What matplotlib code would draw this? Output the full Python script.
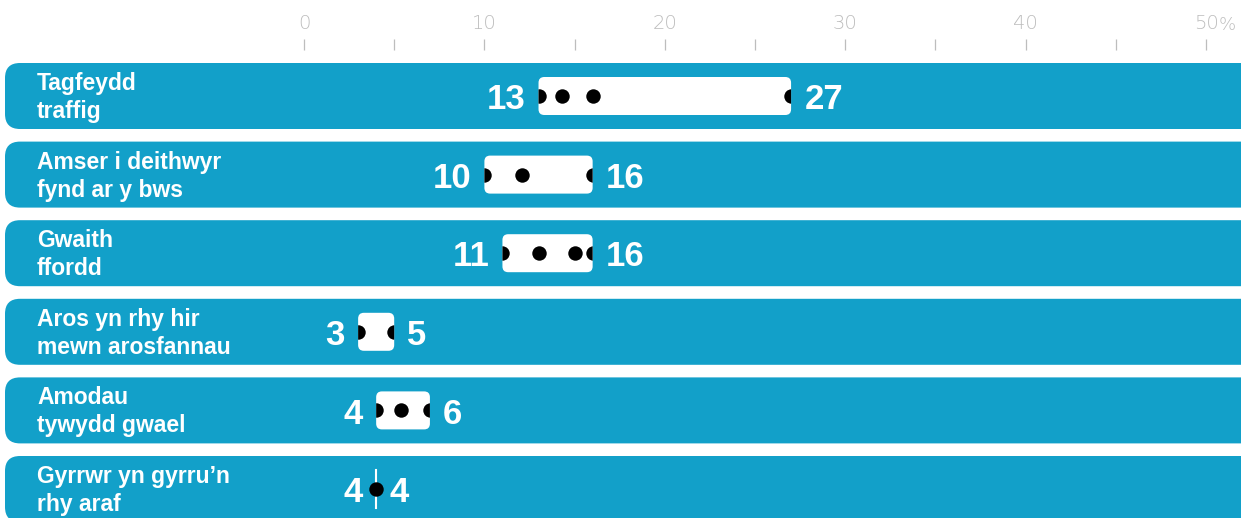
import numpy as np
import matplotlib
matplotlib.use("Agg")
import matplotlib.pyplot as plt
from matplotlib.patches import FancyBboxPatch

# data
row_titles = ["Tagfeydd\ntraffig", "Amser i deithwyr\nfynd ar y bws", "Gwaith\nffordd",
              "Aros yn rhy hir\nmewn arosfannau", "Amodau\ntywydd gwael", "Gyrrwr yn gyrru’n\nrhy araf"]
lows = [13, 10, 11, 3, 4, 4]
highs = [27, 16, 16, 5, 6.98, 4]
low_labels = ["13", "10", "11", "3", "4", "4"]
high_labels = ["27", "16", "16", "5", "6", "4"]
dots = [[13, 14.3, 16, 27], [10, 12.1, 16], [11, 13, 15, 16], [3, 5], [4, 5.4, 7], [4]]
ticks = [0, 5, 10, 15, 20, 25, 30, 35, 40, 45, 50]
tick_labels = ["0", "", "10", "", "20", "", "30", "", "40", "", "50"]

BLUE = "#12a0c9"
GREY = "#bdbdbd"
W, H = 1241, 518
PX_PER_UNIT = 18.04
X0 = 304  # pixel of value 0

fig = plt.figure(figsize=(W / 100, H / 100), dpi=100)

# background layer in pixel coords (bands + row titles)
bg = fig.add_axes([0, 0, 1, 1])
bg.set_xlim(0, W)
bg.set_ylim(H, 0)
bg.axis("off")

row_top = [63 + i * 78.6 for i in range(len(row_titles))]
row_h = 66
for i, title in enumerate(row_titles):
    band = FancyBboxPatch((5, row_top[i]), W + 40, row_h,
                          boxstyle="round,pad=0,rounding_size=15",
                          fc=BLUE, ec="none")
    bg.add_patch(band)
    l1, l2 = title.split("\n")
    c = row_top[i] + row_h / 2
    bg.text(37, c - 6, l1, color="white", fontsize=16.5, fontweight="bold",
            family="Liberation Sans", va="baseline", ha="left")
    bg.text(37, c + 22, l2, color="white", fontsize=16.5, fontweight="bold",
            family="Liberation Sans", va="baseline", ha="left")

# data layer: x in percent, y in pixels
ax = fig.add_axes([0, 0, 1, 1])
ax.patch.set_alpha(0)
ax.set_xlim(-X0 / PX_PER_UNIT, (W - X0) / PX_PER_UNIT)
ax.set_ylim(H, 0)
for s in ["left", "right", "bottom"]:
    ax.spines[s].set_visible(False)
ax.spines["top"].set_position(("data", 50))
ax.spines["top"].set_color("none")
ax.set_yticks([])
ax.set_xticks(ticks)
ax.set_xticklabels(tick_labels)
ax.tick_params(axis="x", top=True, labeltop=True, bottom=False, labelbottom=False,
               direction="out", length=8, width=0.9, color=GREY, labelcolor=GREY,
               labelsize=14, pad=4)
for lab in ax.get_xticklabels():
    lab.set_family("DejaVu Sans")
    lab.set_fontweight("light")
ax.annotate("%", xy=(50, 30.5), xycoords="data", xytext=(9, 0), textcoords="offset points",
            color=GREY, fontsize=13, family="DejaVu Sans", fontweight="light",
            ha="left", va="baseline")

box_h = 38
for i in range(len(row_titles)):
    c = row_top[i] + row_h / 2
    lo, hi = lows[i], highs[i]
    if hi > lo:
        box = FancyBboxPatch((lo, c - box_h / 2), hi - lo, box_h,
                             boxstyle="round,pad=0,rounding_size=0.32",
                             mutation_aspect=PX_PER_UNIT, fc="white", ec="none", zorder=3)
        ax.add_patch(box)
        sc = ax.scatter(dots[i], [c] * len(dots[i]), s=108, color="black", zorder=4,
                        linewidths=0)
        sc.set_clip_path(box)
    else:
        ax.plot([lo, lo], [c - 19, c + 19], color="white", lw=1.5, zorder=3)
        ax.scatter(dots[i], [c] * len(dots[i]), s=108, color="black", zorder=4,
                   linewidths=0)
    ax.annotate(low_labels[i], xy=(lo, c), xytext=(-9.5, -9.5), textcoords="offset points",
                ha="right", va="baseline", color="white", fontsize=25, fontweight="bold",
                family="Liberation Sans")
    ax.annotate(high_labels[i], xy=(hi, c), xytext=(9.5, -9.5), textcoords="offset points",
                ha="left", va="baseline", color="white", fontsize=25, fontweight="bold",
                family="Liberation Sans")

fig.savefig("out.png", dpi=100)
